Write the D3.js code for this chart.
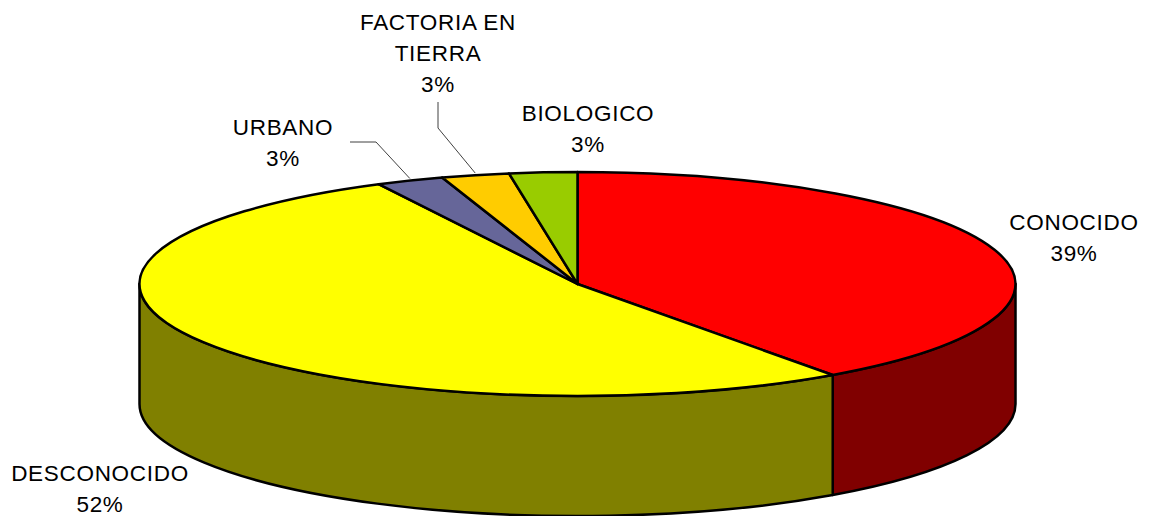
<!DOCTYPE html>
<html>
<head>
<meta charset="utf-8">
<script src="https://cdn.jsdelivr.net/npm/d3@7"></script>
<style>
  html, body { margin: 0; padding: 0; background: #fff; }
  svg { display: block; }
  text { font-family: "Liberation Sans", Arial, sans-serif; font-size: 22.5px; letter-spacing: 0.7px; fill: #000; }
</style>
</head>
<body>
<svg id="chart" width="1154" height="516"></svg>
<script>
// slice data, clockwise from 12 o'clock
const categories = ["CONOCIDO", "DESCONOCIDO", "URBANO", "FACTORIA EN TIERRA", "BIOLOGICO"];
const values = [40.1, 52.4, 2.5, 2.5, 2.5];
const pctLabels = ["39%", "52%", "3%", "3%", "3%"];
const topColors = ["#ff0000", "#ffff00", "#666699", "#ffcc00", "#99cc00"];
const sideColors = ["#800000", "#808000", "#333366", "#806600", "#4d6600"];

const svg = d3.select("#chart");
const width = 1154, height = 516;

const cx = 577.5, cy = 284;
const rx = 438, ry = 112;
const depth = 120;

const pie = d3.pie().sort(null).value(d => d)(values);

// point on the top ellipse for a pie angle (0 = top, clockwise)
const pt = (a, dy = 0) => [cx + rx * Math.sin(a), cy - ry * Math.cos(a) + dy];

// side walls: only the front half (90deg..270deg) is visible
const sideG = svg.append("g");
pie.forEach((p, i) => {
  const s = Math.max(p.startAngle, Math.PI / 2);
  const e = Math.min(p.endAngle, 3 * Math.PI / 2);
  if (e <= s) return;
  const [x0, y0] = pt(s), [x1, y1] = pt(e);
  const large = (e - s) > Math.PI ? 1 : 0;
  const d = `M${x0},${y0} A${rx},${ry} 0 ${large} 1 ${x1},${y1}` +
    ` L${x1},${y1 + depth} A${rx},${ry} 0 ${large} 0 ${x0},${y0 + depth} Z`;
  sideG.append("path")
    .attr("d", d)
    .attr("fill", sideColors[i])
    .attr("stroke", "#000")
    .attr("stroke-width", 2.5)
    .attr("stroke-linejoin", "round");
});

// top face: circular arcs squashed into an ellipse
const arc = d3.arc().innerRadius(0).outerRadius(rx);
svg.append("g")
  .attr("transform", `translate(${cx},${cy}) scale(1,${ry / rx})`)
  .selectAll("path")
  .data(pie)
  .join("path")
  .attr("d", arc)
  .attr("fill", (d, i) => topColors[i])
  .attr("stroke", "#000")
  .attr("stroke-width", 2.5)
  .attr("stroke-linejoin", "round")
  .attr("vector-effect", "non-scaling-stroke");

// labels
const labelPos = [
  { x: 1074, y: 222, lines: ["CONOCIDO"] },
  { x: 100, y: 473, lines: ["DESCONOCIDO"] },
  { x: 283, y: 127, lines: ["URBANO"] },
  { x: 438, y: 22, lines: ["FACTORIA EN", "TIERRA"] },
  { x: 588, y: 113, lines: ["BIOLOGICO"] }
];
const lineH = 31;

labelPos.forEach((l, i) => {
  const t = svg.append("text")
    .attr("text-anchor", "middle")
    .attr("dominant-baseline", "central");
  l.lines.concat([pctLabels[i]]).forEach((s, k) => {
    t.append("tspan").attr("x", l.x).attr("y", l.y + k * lineH).text(s);
  });
});

// leader lines for the small slices
const leader = d3.line();
const urbanoMid = pt((pie[2].startAngle + pie[2].endAngle) / 2);
const factMid = pt((pie[3].startAngle + pie[3].endAngle) / 2);
svg.append("path")
  .attr("d", leader([[350, 142], [376, 142], [urbanoMid[0], urbanoMid[1] - 2]]))
  .attr("fill", "none").attr("stroke", "#404040").attr("stroke-width", 1);
svg.append("path")
  .attr("d", leader([[438, 102], [438, 128], [factMid[0], factMid[1] - 2]]))
  .attr("fill", "none").attr("stroke", "#404040").attr("stroke-width", 1);
</script>
</body>
</html>
